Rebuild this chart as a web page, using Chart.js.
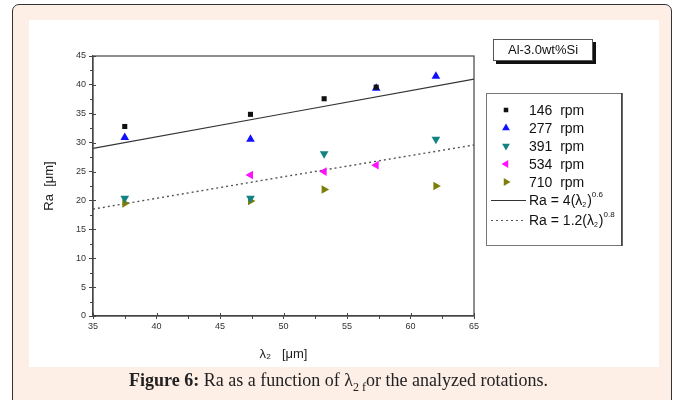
<!DOCTYPE html>
<html>
<head>
<meta charset="utf-8">
<script src="https://cdn.jsdelivr.net/npm/chart.js@4.4.1/dist/chart.umd.min.js"></script>
<style>
    html, body { margin: 0; padding: 0; background: #ffffff; }
    #page { position: relative; width: 677px; height: 400px; overflow: hidden; }
    #frame {
        position: absolute; left: 12px; top: 4px; width: 658px; height: 420px;
        background: #fdeee6; border: 1.5px solid #333; border-radius: 7px;
    }
    #panel { position: absolute; left: 29px; top: 20px; width: 630px; height: 347px; background: #fff; }
    #chartWrap { position: absolute; left: 0; top: 0; width: 677px; height: 400px; }
    #caption {
        position: absolute; left: 0; top: 370px; width: 677px; text-align: center;
        font-family: "Liberation Serif", "DejaVu Serif", serif; font-size: 18px; color: #222;
    }
    #caption sub { font-size: 12px; }
</style>
</head>
<body>
<div id="page">
    <div id="frame"></div>
    <div id="panel"></div>
    <div id="chartWrap"><canvas id="raChart" width="677" height="400"></canvas></div>
    <div id="caption"><b>Figure 6:</b> Ra as a function of &lambda;<sub>2 f</sub>or the analyzed rotations.</div>
</div>
<script>
// ---- data ----
const lambdaVals = [37.5, 47.4, 53.2, 57.3, 62.0];
const rpm146 = [32.8, 34.9, 37.6, 39.6, null];
const rpm277 = [30.9, 30.6, null, 39.4, 41.5];
const rpm391 = [20.4, 20.4, 28.1, null, 30.6];
const rpm534 = [null, 24.4, 25.0, 26.1, null];
const rpm710 = [19.5, 19.9, 21.9, null, 22.5];

const fitX = [35, 50, 65];
const fitSolid = [29.0, 35.0, 41.0];   // Ra = 4(l2)^0.6
const fitDashed = [18.5, 24.1, 29.6];  // Ra = 1.2(l2)^0.8

const yTicks = [0, 5, 10, 15, 20, 25, 30, 35, 40, 45];
const xTicks = [35, 40, 45, 50, 55, 60, 65];

const FONT = '"Liberation Sans", Arial, sans-serif';

function toPoints(xs, ys) {
    const pts = [];
    xs.forEach((x, i) => {
        if (ys[i] !== null) pts.push({ x: x, y: ys[i] });
    });
    return pts;
}

function markerSet(label, values, color, style, rotation) {
    return {
        label: label,
        data: toPoints(lambdaVals, values),
        showLine: false,
        pointStyle: style,
        rotation: rotation,
        pointRadius: style === 'rect' ? 3.6 : 5,
        backgroundColor: color,
        borderColor: color,
        borderWidth: 0
    };
}

//////////////////////////////////////////////
// Plugin: frame, minor ticks, boxes, legend
//////////////////////////////////////////////
const decorPlugin = {
    id: 'decor',
    afterDraw(chart) {
        const ctx = chart.ctx;
        const area = chart.chartArea;
        const xs = chart.scales.x;
        const ys = chart.scales.y;

        ctx.save();
        // frame top / right
        ctx.strokeStyle = '#444';
        ctx.lineWidth = 1.2;
        ctx.strokeRect(area.left, area.top, area.right - area.left, area.bottom - area.top);

        // major ticks poking inside, and minor ticks
        ctx.lineWidth = 1;
        ctx.strokeStyle = '#444';
        ctx.beginPath();
        for (let v = 0; v <= 45; v += 2.5) {
            const py = Math.round(ys.getPixelForValue(v)) + 0.5;
            const major = v % 5 === 0;
            ctx.moveTo(area.left - (major ? 0 : 3), py);
            ctx.lineTo(area.left + (major ? 3 : 0), py);
        }
        for (let v = 35; v <= 65; v += 2.5) {
            const px = Math.round(xs.getPixelForValue(v)) + 0.5;
            const major = v % 5 === 0;
            ctx.moveTo(px, area.bottom - (major ? 3 : 0));
            ctx.lineTo(px, area.bottom + (major ? 0 : 3));
        }
        ctx.stroke();

        // material label box
        ctx.fillStyle = '#111';
        ctx.fillRect(496, 42, 100, 22);
        ctx.fillStyle = '#fff';
        ctx.fillRect(493, 39, 100, 22);
        ctx.strokeStyle = '#555';
        ctx.lineWidth = 1;
        ctx.strokeRect(493.5, 39.5, 99, 21);
        ctx.fillStyle = '#111';
        ctx.font = '13px ' + FONT;
        ctx.textAlign = 'center';
        ctx.textBaseline = 'middle';
        ctx.fillText('Al-3.0wt%Si', 543, 50.5);

        // legend box
        ctx.fillStyle = '#fff';
        ctx.fillRect(486, 93, 136, 153);
        ctx.strokeStyle = '#777';
        ctx.strokeRect(486.5, 93.5, 135, 152);
        ctx.strokeStyle = '#333';
        ctx.lineWidth = 1.5;
        ctx.beginPath();
        ctx.moveTo(622, 93); ctx.lineTo(622, 246);
        ctx.stroke();

        const rowY = [110, 128, 146, 164, 182, 200, 220];
        ctx.textAlign = 'left';
        chart.data.datasets.forEach((ds, i) => {
            const y = rowY[i];
            if (ds.showLine === false) {
                ctx.fillStyle = ds.backgroundColor;
                Chart.helpers.drawPoint(ctx, {
                    pointStyle: ds.pointStyle,
                    rotation: ds.rotation,
                    radius: ds.pointStyle === 'rect' ? 3.2 : 4.5,
                    borderWidth: 0
                }, 506, y);
                ctx.fillStyle = '#111';
                ctx.font = '14px ' + FONT;
                ctx.fillText(ds.label, 529, y + 1);
            } else {
                ctx.strokeStyle = ds.borderColor;
                ctx.lineWidth = 1;
                ctx.setLineDash(ds.borderDash || []);
                ctx.beginPath();
                ctx.moveTo(491, y + 0.5); ctx.lineTo(526, y + 0.5);
                ctx.stroke();
                ctx.setLineDash([]);
                // formula with sub/superscript
                const parts = ds.label.split('|');
                ctx.fillStyle = '#111';
                let x = 529;
                ctx.font = '14px ' + FONT;
                ctx.fillText(parts[0], x, y + 1);
                x += ctx.measureText(parts[0]).width;
                ctx.font = '7px ' + FONT;
                ctx.fillText('2', x, y + 5);
                x += ctx.measureText('2').width + 1;
                ctx.font = '14px ' + FONT;
                ctx.fillText(')', x, y + 1);
                x += ctx.measureText(')').width;
                ctx.font = '8px ' + FONT;
                ctx.fillText(parts[1], x, y - 5);
            }
        });
        ctx.restore();
    }
};

//////////////////////////////////////////////
// Chart
//////////////////////////////////////////////
const ctx = document.getElementById('raChart').getContext('2d');
const raChart = new Chart(ctx, {
    type: 'scatter',
    data: {
        datasets: [
            markerSet('146  rpm', rpm146, '#111111', 'rect', 0),
            markerSet('277  rpm', rpm277, '#1010ff', 'triangle', 0),
            markerSet('391  rpm', rpm391, '#138282', 'triangle', 180),
            markerSet('534  rpm', rpm534, '#ff10ff', 'triangle', -90),
            markerSet('710  rpm', rpm710, '#7d7d0a', 'triangle', 90),
            {
                label: 'Ra = 4(\u03bb|0.6',
                data: toPoints(fitX, fitSolid),
                showLine: true,
                borderColor: '#333',
                borderWidth: 1.2,
                pointRadius: 0,
                fill: false
            },
            {
                label: 'Ra = 1.2(\u03bb|0.8',
                data: toPoints(fitX, fitDashed),
                showLine: true,
                borderColor: '#555',
                borderWidth: 1.4,
                borderDash: [2, 3],
                pointRadius: 0,
                fill: false
            }
        ]
    },
    options: {
        responsive: false,
        animation: false,
        layout: { padding: { left: 0, right: 203, top: 56, bottom: 34 } },
        plugins: {
            legend: { display: false },
            tooltip: { enabled: false }
        },
        scales: {
            x: {
                type: 'linear',
                min: 35,
                max: 65,
                afterFit: (scale) => { scale.height = 50; },
                afterBuildTicks: (scale) => { scale.ticks = xTicks.map(v => ({ value: v })); },
                border: { display: true, color: '#444', width: 1.2 },
                grid: { drawOnChartArea: false, drawTicks: true, tickLength: 3, color: '#444' },
                ticks: {
                    color: '#333',
                    padding: 2,
                    font: { family: FONT, size: 9 }
                },
                title: {
                    display: true,
                    text: '\u03bb\u2082   [\u03bcm]',
                    color: '#222',
                    padding: { top: 10 },
                    font: { family: FONT, size: 13 }
                }
            },
            y: {
                type: 'linear',
                min: 0,
                max: 45,
                afterFit: (scale) => { scale.width = 93; },
                afterBuildTicks: (scale) => { scale.ticks = yTicks.map(v => ({ value: v })); },
                border: { display: true, color: '#444', width: 1.2 },
                grid: { drawOnChartArea: false, drawTicks: true, tickLength: 4, color: '#444' },
                ticks: {
                    color: '#333',
                    padding: 3,
                    font: { family: FONT, size: 9 }
                },
                title: {
                    display: true,
                    text: 'Ra  [\u03bcm]',
                    color: '#222',
                    padding: { top: 42 },
                    font: { family: FONT, size: 13 }
                }
            }
        }
    },
    plugins: [decorPlugin]
});
</script>
</body>
</html>
